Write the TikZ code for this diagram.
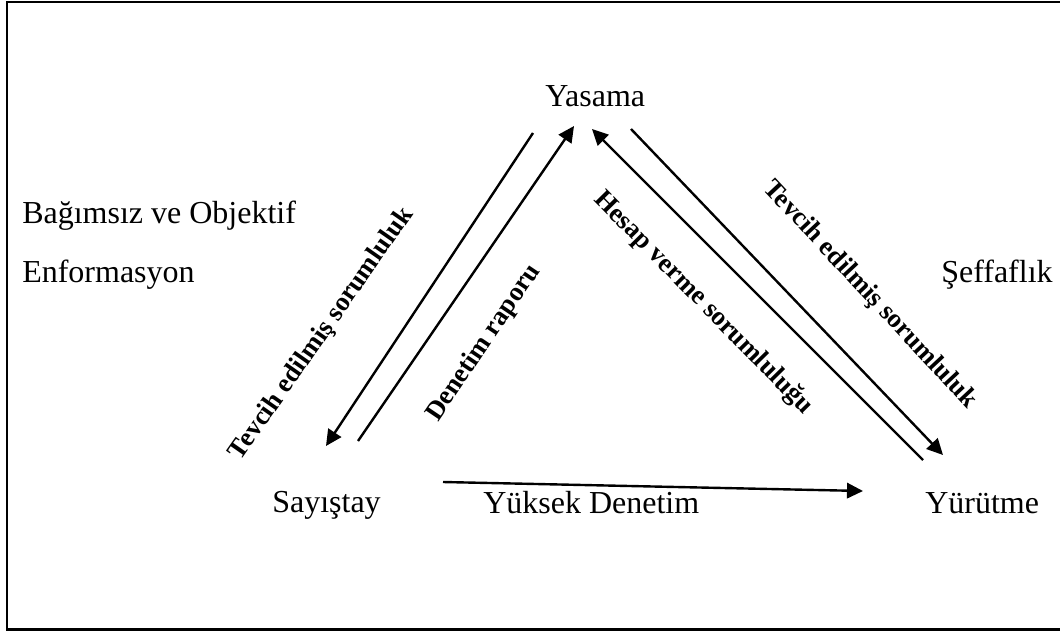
\documentclass[tikz,border=0pt]{standalone}
\usepackage{fontspec}
\setmainfont{Liberation Serif}
\usetikzlibrary{arrows.meta}
\begin{document}
\begin{tikzpicture}[x=0.75pt,y=-0.75pt,
  lbl/.style={inner sep=0pt, font=\fontsize{24}{28}\selectfont, anchor=base west},
  rlbl/.style={inner sep=0pt, font=\fontsize{20}{24}\selectfont\bfseries},
  arr/.style={line width=1.8pt, -{Triangle[length=12pt,width=11.5pt]}},
  frame/.style={line width=1.9pt}]
\useasboundingbox (0,0) rectangle (1060,632);
% outer frame (right side runs off the page)
\draw[frame] (1064,2) -- (7,2) -- (7,629.5) -- (1064,629.5);

% actors and side remarks
\node[lbl] (yas) at (545,106) {Yasama};
\node[lbl] (bag) at (22,223) {Bağımsız ve Objektif};
\node[lbl] (enf) at (22,282) {Enformasyon};
\node[lbl] (sef) at (941,282) {Şeffaflık};
\node[lbl] (say) at (272,512) {Sayıştay};
\node[lbl] (yd)  at (483,513) {Yüksek Denetim};
\node[lbl] (yur) at (925,513) {Yürütme};

% relation labels along the arrows
\node[rlbl, rotate=55]    (t1) at (322,334) {Tevcih edilmiş sorumluluk};
\node[rlbl, rotate=56]    (dr) at (484,343) {Denetim raporu};
\node[rlbl, rotate=-45.5] (hv) at (703,303) {Hesap verme sorumluluğu};
\node[rlbl, rotate=-47]   (t2) at (870,295) {Tevcih edilmiş sorumluluk};

% arrow end points
\coordinate (a1) at (533,133); \coordinate (a2) at (326,446);
\coordinate (b1) at (358,441); \coordinate (b2) at (574,126);
\coordinate (c1) at (923,460); \coordinate (c2) at (592,129);
\coordinate (d1) at (631,129); \coordinate (d2) at (943,455);
\coordinate (e1) at (443,482); \coordinate (e2) at (863,491);

\draw[arr] (a1) -- (a2);
\draw[arr] (b1) -- (b2);
\draw[arr] (c1) -- (c2);
\draw[arr] (d1) -- (d2);
\draw[arr] (e1) -- (e2);
\end{tikzpicture}
\end{document}
